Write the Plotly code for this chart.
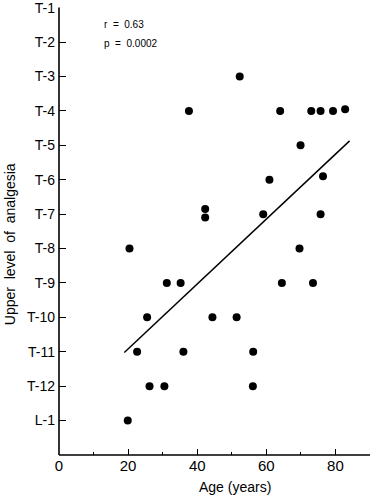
import plotly.graph_objects as go

# Data
ages = [52.3, 37.6, 64.0, 73.0, 75.7, 79.3, 82.8, 69.9, 60.9, 76.4,
        42.3, 42.3, 59.1, 75.7, 20.4, 69.6,
        31.2, 35.2, 64.5, 73.5, 25.5, 44.4, 51.4, 22.6, 36.0, 56.2,
        26.2, 30.5, 56.1, 19.9]
levels = [3, 4, 4, 4, 4, 4, 3.95, 5, 6, 5.9,
          6.85, 7.1, 7, 7, 8, 8,
          9, 9, 9, 9, 10, 10, 10, 11, 11, 11,
          12, 12, 12, 13]
fit_ages = [18.9, 84.1]
fit_levels = [11.02, 4.87]
level_vals = list(range(1, 14))
level_labels = ["T-1", "T-2", "T-3", "T-4", "T-5", "T-6", "T-7", "T-8",
                "T-9", "T-10", "T-11", "T-12", "L-1"]
age_ticks = [0, 20, 40, 60, 80]
age_minor = [10, 30, 50, 70, 90]

FONT = "Liberation Sans"

fig = go.Figure()
fig.add_trace(go.Scatter(x=fit_ages, y=fit_levels, mode="lines",
                         line=dict(color="black", width=1.5),
                         showlegend=False, hoverinfo="skip"))
fig.add_trace(go.Scatter(x=ages, y=levels, mode="markers",
                         marker=dict(color="black", size=8),
                         showlegend=False))

fig.update_layout(
    width=371, height=500,
    margin=dict(l=59, r=1, t=7, b=45),
    paper_bgcolor="white", plot_bgcolor="white",
    font=dict(family=FONT, size=14, color="black"),
    xaxis=dict(range=[0, 90], tickvals=age_ticks, ticks="inside", ticklen=6,
               tickwidth=1.3, tickcolor="black",
               minor=dict(tickvals=age_minor, ticks="inside",
                          ticklen=3, tickcolor="black", tickwidth=1.2),
               showline=False, showgrid=False, zeroline=False,
               automargin=False, ticklabeloverflow="allow",
               tickfont=dict(family=FONT, size=15)),
    yaxis=dict(range=[14, 0.98], tickvals=level_vals, ticktext=level_labels,
               ticks="inside", ticklen=7, tickwidth=1.3, tickcolor="black",
               showline=False, showgrid=False, zeroline=False,
               automargin=False, ticklabelstandoff=3,
               ticklabeloverflow="allow",
               tickfont=dict(family=FONT, size=14)),
    shapes=[
        dict(type="line", xref="paper", yref="paper", x0=0, x1=0, y0=0,
             y1=0.999, line=dict(color="black", width=1.6)),
        dict(type="line", xref="paper", yref="paper", x0=0, x1=1, y0=0,
             y1=0, line=dict(color="black", width=1.6)),
    ],
    annotations=[
        dict(text="Upper  level  of  analgesia", xref="paper", yref="paper",
             x=-0.155, y=0.47, xanchor="center", yanchor="middle",
             textangle=-90, showarrow=False,
             font=dict(family=FONT, size=14)),
        dict(text="Age (years)", xref="paper", yref="paper",
             x=0.566, y=-0.0714, xanchor="center", yanchor="middle",
             showarrow=False, font=dict(family=FONT, size=14)),
        dict(text="r  =  0.63", x=12.4, y=1.5, xanchor="left",
             yanchor="middle", showarrow=False,
             font=dict(family=FONT, size=10)),
        dict(text="p  =  0.0002", x=12.4, y=2.05, xanchor="left",
             yanchor="middle", showarrow=False,
             font=dict(family=FONT, size=10)),
    ],
)

fig.write_html("out.html")
